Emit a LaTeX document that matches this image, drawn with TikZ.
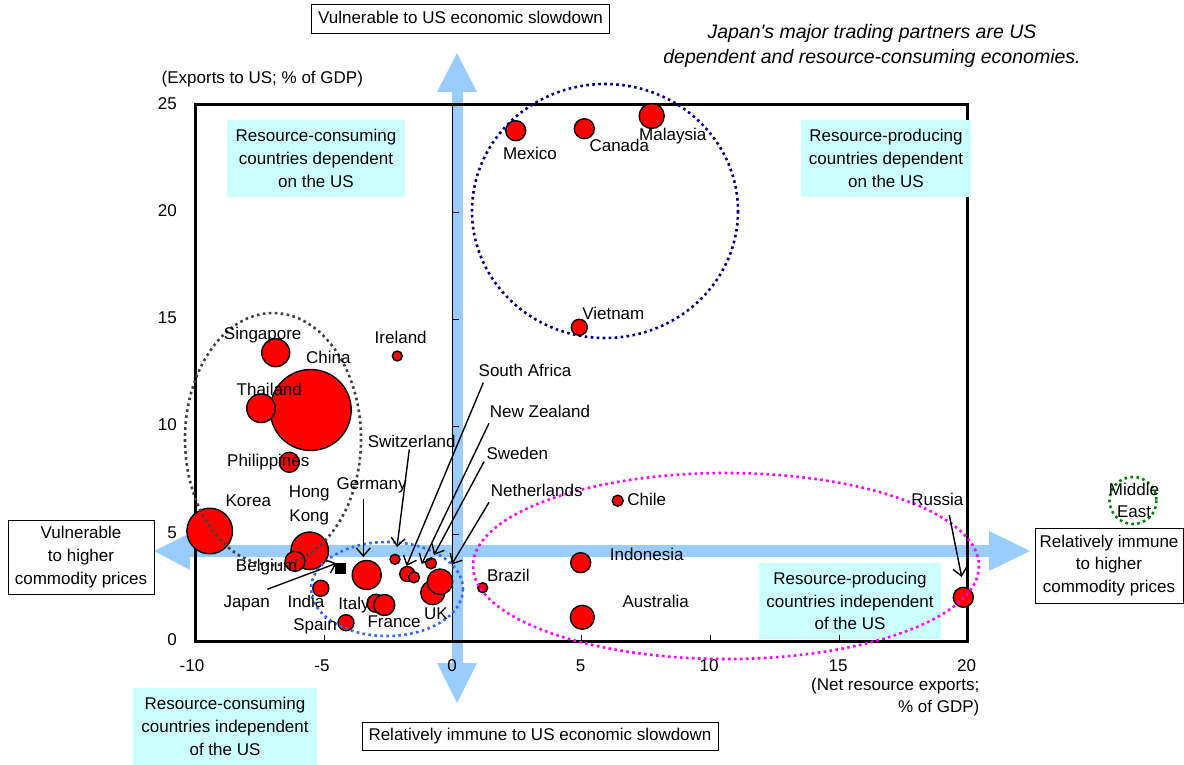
\documentclass[tikz,border=0pt]{standalone}
\usepackage{fontspec}
\setmainfont{Liberation Sans}
\usetikzlibrary{arrows.meta}
\definecolor{band}{HTML}{99CCFF}
\definecolor{cyanfill}{HTML}{CCFFFF}
\definecolor{navyd}{HTML}{000080}
\definecolor{grayd}{HTML}{404040}
\definecolor{bluee}{HTML}{3366FF}
\definecolor{magen}{HTML}{FF00FF}
\definecolor{greend}{HTML}{008000}
\begin{document}
\begin{tikzpicture}[x=1pt,y=-1pt,
  every node/.style={font=\fontsize{17}{22.8}\selectfont, inner sep=0pt},
  bub/.style={circle, fill=red, draw=black, line width=1.4pt, inner sep=0pt},
  lbl/.style={text height=12.3pt, text depth=3.5pt},
  wbox/.style={draw=black, line width=1pt, fill=white, align=center},
  cbox/.style={fill=cyanfill, align=center},
  arr/.style={line width=1.4pt, -{Straight Barb[length=8pt,width=14pt,line width=1.4pt]}},
  dots/.style={line width=2.6pt, dash pattern=on 2.6pt off 3.4pt},
  tick/.style={line width=1pt},
]
\useasboundingbox (0,0) rectangle (1184,765);
\fill[white] (0,0) rectangle (1184,765);

% blue cross arrows
\fill[band] (190,545) rectangle (989,557);
\fill[band] (154,551) -- (190,533) -- (190,570) -- cycle;
\fill[band] (1030,551) -- (989,531) -- (989,571) -- cycle;
\fill[band] (451.8,92) rectangle (463.2,663);
\fill[band] (457,53) -- (437,92) -- (477,92) -- cycle;
\fill[band] (457,703) -- (437,663) -- (477,663) -- cycle;

% cyan boxes
\node[cbox, minimum width=178pt, minimum height=77pt] (cTL) at (316,158.5) {Resource-consuming\\countries dependent\\on the US};
\node[cbox, minimum width=170pt, minimum height=77pt] (cTR) at (886,158.5) {Resource-producing\\countries dependent\\on the US};
\node[cbox, minimum width=184pt, minimum height=77pt] (cBL) at (225,726.5) {Resource-consuming\\countries independent\\of the US};
\node[cbox, minimum width=182pt, minimum height=76pt] (cBR) at (850,601) {Resource-producing\\countries independent\\of the US};

% frame (right edge interrupted where the cyan box lies over it)
\draw[line width=3pt] (195.5,105) -- (967,105);
\draw[line width=3pt] (195.5,641) -- (967,641);
\draw[line width=3pt] (195.5,103.5) -- (195.5,642.5);
\draw[line width=3pt] (967,103.5) -- (967,120);
\draw[line width=3pt] (967,197) -- (967,642.5);

% y axis at x=0
\draw[line width=1.2pt] (452.3,105) -- (452.3,641);
\foreach \yy in {212,319.3,426.7,534.3} \draw[tick] (452.3,\yy) -- (458.5,\yy);
\foreach \xx in {324,581.5,710.5,839} \draw[tick] (\xx,641) -- (\xx,634.5);

% tick labels
\foreach \v/\yy in {25/105,20/212,15/319,10/426,5/534,0/641}
  \node[lbl, anchor=east] at (177,\yy) {\v};
\foreach \v/\xx in {-10/192,-5/322,0/452,5/580.5,10/709,15/838,20/966.5}
  \node[lbl] at (\xx,666.7) {\v};
\node[lbl, anchor=west] (ylab) at (161.5,79) {(Exports to US; \% of GDP)};
\node[align=right, anchor=east] (xlab) at (979.5,697) {(Net resource exports;\\\% of GDP)};

% title
\node[font=\fontsize{19.5}{25}\selectfont\itshape, align=center] (title) at (872,45.5) {Japan\textquotesingle s major trading partners are US\\dependent and resource-consuming economies.};

% white boxes
\node[wbox, minimum width=298pt, minimum height=29pt, lbl] (top) at (460.5,19.5) {Vulnerable to US economic slowdown};
\node[wbox, minimum width=356pt, minimum height=28pt, lbl] (bot) at (540,736.5) {Relatively immune to US economic slowdown};
\node[wbox, minimum width=146pt, minimum height=74pt] (left) at (81,557) {Vulnerable\\to higher\\commodity prices};
\node[wbox, minimum width=148pt, minimum height=75pt] (right) at (1109,565.5) {Relatively immune\\to higher\\commodity prices};

% bubbles
\node[bub, minimum size=20pt] (mexico) at (515.7,130.7) {};
\node[bub, minimum size=20pt] (canada) at (584.3,128.7) {};
\node[bub, minimum size=25pt] (malaysia) at (651.7,116) {};
\node[bub, minimum size=16pt] (vietnam) at (579.3,327.3) {};
\node[bub, minimum size=28pt] (singapore) at (275.7,352.7) {};
\node[bub, minimum size=81pt] (china) at (310.7,410) {};
\node[bub, minimum size=28.6pt] (thailand) at (261,408.3) {};
\node[bub, minimum size=10pt] (ireland) at (397.3,356) {};
\node[bub, minimum size=20pt] (philippines) at (289.3,462.3) {};
\node[bub, minimum size=45.6pt] (korea) at (209.7,531) {};
\node[bub, minimum size=37.5pt] (hongkong) at (309.7,550.8) {};
\node[bub, minimum size=20pt] (belgium) at (295,561.3) {};
\node[bub, minimum size=29pt] (germany) at (366.7,575) {};
\node[bub, minimum size=16pt] (india) at (320.8,588.3) {};
\node[bub, minimum size=18pt] (italy) at (376,603.3) {};
\node[bub, minimum size=21pt] (france) at (384.3,605) {};
\node[bub, minimum size=16pt] (spain) at (346,622.7) {};
\node[bub, minimum size=10pt] (switzerland) at (395,559.3) {};
\node[bub, minimum size=15pt] (southafrica) at (407.3,574) {};
\node[bub, minimum size=11pt] (newzealand) at (414,577.3) {};
\node[bub, minimum size=11pt] (sweden) at (431,563.3) {};
\node[bub, minimum size=24pt] (uk) at (432.7,592.7) {};
\node[bub, minimum size=25.4pt] (netherlands) at (440,581.7) {};
\node[bub, minimum size=10pt] (brazil) at (482.7,587.7) {};
\node[bub, minimum size=11pt] (chile) at (617.7,500.7) {};
\node[bub, minimum size=20pt] (indonesia) at (580.7,562.7) {};
\node[bub, minimum size=24pt] (australia) at (582.3,617.3) {};
\node[bub, minimum size=20pt] (russia) at (963.3,597.3) {};
\node[fill=black, minimum size=10.5pt] (japan) at (340.6,568.5) {};

% dotted groupings
\draw[dots, grayd] (273,439) ellipse [x radius=88, y radius=126];
\draw[dots, navyd] (605,211) ellipse [x radius=133, y radius=127];
\draw[dots, bluee] (387,589) ellipse [x radius=76, y radius=47];
\draw[dots, magen] (726,566) ellipse [x radius=253, y radius=93];
\draw[dots, greend] (1133,500.5) circle [radius=23.5];

% labels
\node[lbl] (lmexico) at (530,155) {Mexico};
\node[lbl] (lcanada) at (619.3,146.7) {Canada};
\node[lbl] (lmalaysia) at (672.7,136) {Malaysia};
\node[lbl] (lvietnam) at (613.3,315) {Vietnam};
\node[lbl] (lsingapore) at (262.7,335) {Singapore};
\node[lbl] (lchina) at (328.3,359) {China};
\node[lbl] (lireland) at (400.7,339.3) {Ireland};
\node[lbl] (lthailand) at (269.3,390.7) {Thailand};
\node[lbl] (lphilippines) at (268.3,462.3) {Philippines};
\node[lbl] (lkorea) at (248.3,502.3) {Korea};
\node[align=center, font=\fontsize{17}{24}\selectfont] (lhongkong) at (309.3,505.5) {Hong\\Kong};
\node[lbl] (lbelgium) at (266.7,567.3) {Belgium};
\node[lbl] (ljapan) at (246.7,602.7) {Japan};
\node[lbl] (lindia) at (306,603.3) {India};
\node[lbl] (litaly) at (354,605) {Italy};
\node[lbl] (lspain) at (315,625.7) {Spain};
\node[lbl] (lfrance) at (394,623.3) {France};
\node[lbl] (luk) at (436,615) {UK};
\node[lbl] (lbrazil) at (508.3,577.3) {Brazil};
\node[lbl] (lchile) at (646.7,500.7) {Chile};
\node[lbl] (lindonesia) at (646.7,556) {Indonesia};
\node[lbl] (laustralia) at (655.7,602.7) {Australia};
\node[lbl] (lgermany) at (371.7,485) {Germany};
\node[lbl] (lswitzerland) at (411.7,443.3) {Switzerland};
\node[lbl] (lsouthafrica) at (525,371.7) {South Africa};
\node[lbl] (lnewzealand) at (540,413.3) {New Zealand};
\node[lbl] (lsweden) at (517.3,455) {Sweden};
\node[lbl] (lnetherlands) at (536.7,491.7) {Netherlands};
\node[lbl] (lrussia) at (937.3,500.7) {Russia};
\node[align=center, font=\fontsize{17}{21.5}\selectfont] (lmiddleeast) at (1134,500.5) {Middle\\East};

% arrow end points
\coordinate (gS) at (363.3,499);   \coordinate (gE) at (363.3,557);
\coordinate (swS) at (409.3,449.3); \coordinate (swE) at (397,547);
\coordinate (saS) at (483.3,382.7); \coordinate (saE) at (406.5,566);
\coordinate (nzS) at (489,423.3);   \coordinate (nzE) at (421.7,564);
\coordinate (seS) at (484,461.7);   \coordinate (seE) at (434,555);
\coordinate (neS) at (489,502.3);   \coordinate (neE) at (451.7,564.5);
\coordinate (ruS) at (949.3,515);   \coordinate (ruE) at (961.7,577);
\coordinate (jpS) at (267.3,589.3); \coordinate (jpE) at (336.5,563.3);

\draw[arr] (gS) -- (gE);
\draw[arr] (swS) -- (swE);
\draw[arr] (saS) -- (saE);
\draw[arr] (nzS) -- (nzE);
\draw[arr] (seS) -- (seE);
\draw[arr] (neS) -- (neE);
\draw[arr] (ruS) -- (ruE);
\draw[arr] (jpS) -- (jpE);
\end{tikzpicture}
\end{document}
